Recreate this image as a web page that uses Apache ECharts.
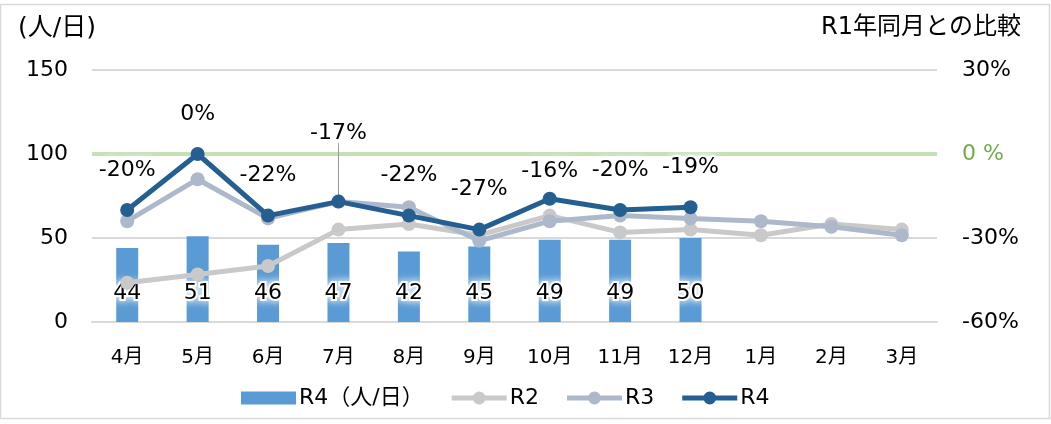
<!DOCTYPE html>
<html><head><meta charset="utf-8">
<script src="https://cdn.jsdelivr.net/npm/echarts@6/dist/echarts.min.js"></script>
<style>html,body{margin:0;padding:0;background:#fff}#c{width:1051px;height:424px}</style>
</head><body><div id="c"></div>
<script>
const months = ['4月','5月','6月','7月','8月','9月','10月','11月','12月','1月','2月','3月'];
const r4Daily = [44,51,46,47,42,45,49,49,50,null,null,null];
const r2Pct = [-46,-43,-40,-27,-25,-29,-22,-28,-27,-29,-25,-27];
const r3Pct = [-24,-9,-23,-17,-19,-31,-24,-22,-23,-24,-26,-29];
const r4Pct = [-20,0,-22,-17,-22,-27,-16,-20,-19,null,null,null];
const leftTicks = {min:0,max:150,interval:50};
const rightTicks = {min:-60,max:30,interval:30};

const FONT = 'DejaVu Sans, Noto Sans CJK JP, sans-serif';
const halo = {textBorderColor:'#fff',textBorderWidth:4,textShadowColor:'#fff',textShadowBlur:8};
const lineIcon = 'path://M0,4 L55,4 L55,9 L0,9 Z M21,6.5 A6.5,6.5 0 1,1 34,6.5 A6.5,6.5 0 1,1 21,6.5 Z';

const r4Data = r4Pct.map((v,i)=>{
  if(v===null) return null;
  const d = {value:v};
  if(i===3) d.label = {distance:50};
  if(i===6) d.label = {distance:10};
  return d;
});

const chart = echarts.init(document.getElementById('c'));
chart.setOption({
  animation:false,
  textStyle:{fontFamily:FONT},
  grid:{left:92,right:114,top:70,bottom:102},
  graphic:[
    {type:'rect',shape:{x:0.5,y:4.5,width:1049,height:414},style:{fill:'none',stroke:'#d9d9d9',lineWidth:1.5},silent:true},
    {type:'text',left:18,top:16,style:{text:'(人/日)',font:'25px '+FONT,fill:'#000'}},
    {type:'text',right:30,top:16,style:{text:'R1年同月との比較',font:'24px '+FONT,fill:'#000'}}
  ],
  legend:{
    bottom:10,left:236,itemGap:28,itemWidth:55,itemHeight:13,
    textStyle:{fontSize:22,color:'#000',fontFamily:FONT,padding:[0,0,0,-2]},
    data:[
      {name:'R4（人/日）',icon:'rect'},
      {name:'R2',icon:lineIcon},{name:'R3',icon:lineIcon},{name:'R4',icon:lineIcon}
    ]
  },
  xAxis:{
    type:'category',data:months,
    axisLine:{lineStyle:{color:'#d9d9d9',width:2}},
    axisTick:{show:false},
    axisLabel:{color:'#000',fontSize:20,margin:26,fontFamily:FONT}
  },
  yAxis:[
    {type:'value',min:leftTicks.min,max:leftTicks.max,interval:leftTicks.interval,
     axisLine:{show:false},axisTick:{show:false},
     splitLine:{lineStyle:{color:'#d9d9d9',width:2}},
     axisLabel:{color:'#000',fontSize:22,margin:24,fontFamily:FONT}},
    {type:'value',min:rightTicks.min,max:rightTicks.max,interval:rightTicks.interval,
     axisLine:{show:false},axisTick:{show:false},splitLine:{show:false},
     axisLabel:{color:'#000',fontSize:22,margin:25,fontFamily:FONT,align:'left',
       formatter:v=> v===0 ? '{g|0 %}' : v+'%',
       rich:{g:{color:'#70AD47',fontSize:22,fontFamily:FONT}}}}
  ],
  series:[
    {name:'R4（人/日）',type:'bar',yAxisIndex:0,data:r4Daily,barWidth:22,
     itemStyle:{color:'#5B9BD5'},z:1,
     label:{show:true,position:'insideBottom',distance:18,color:'#000',fontSize:22,fontFamily:FONT,...halo}},
    {name:'R2',type:'line',yAxisIndex:1,data:r2Pct,symbol:'circle',symbolSize:14,
     lineStyle:{color:'#C9C9C9',width:5},itemStyle:{color:'#C9C9C9'},z:3},
    {name:'R3',type:'line',yAxisIndex:1,data:r3Pct,symbol:'circle',symbolSize:14,
     lineStyle:{color:'#ADB9CA',width:5},itemStyle:{color:'#ADB9CA'},z:4},
    {name:'R4',type:'line',yAxisIndex:1,data:r4Data,symbol:'circle',symbolSize:14,
     lineStyle:{color:'#255E91',width:5},itemStyle:{color:'#255E91'},z:5,
     label:{show:true,position:'top',distance:22,formatter:'{c}%',color:'#000',fontSize:22,fontFamily:FONT,...halo},
     markLine:{silent:true,symbol:'none',label:{show:false},animation:false,
       data:[
         [{coord:[0,0],x:92,lineStyle:{color:'#C5E0B4',width:4,type:'solid'}},{coord:[11,0],x:937}],
         [{coord:['7月',-17],lineStyle:{color:'#999',width:1,type:'solid'}},{coord:['7月',4]}]
       ]}}
  ]
});
</script></body></html>
